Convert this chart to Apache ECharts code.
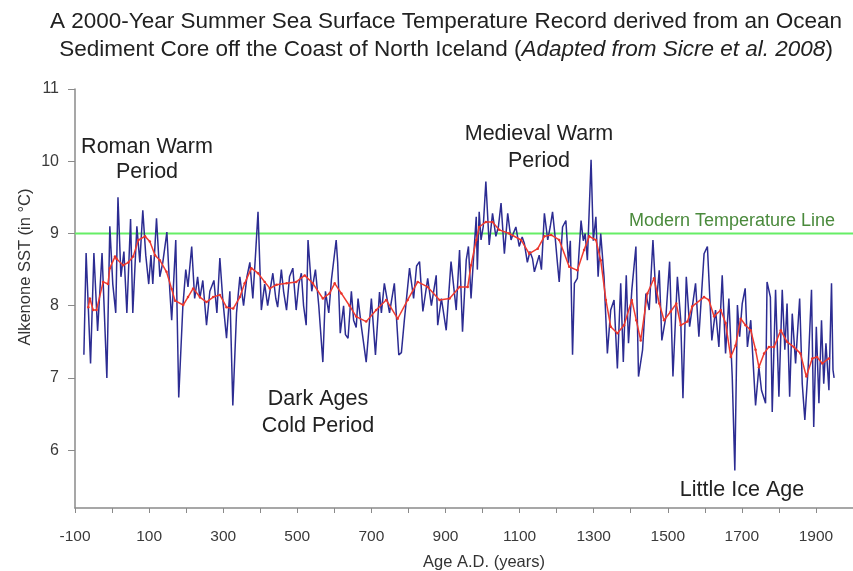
<!DOCTYPE html>
<html>
<head>
<meta charset="utf-8">
<title>2000-Year Summer SST Record, North Iceland</title>
<script src="https://cdn.jsdelivr.net/npm/echarts@6/dist/echarts.min.js"></script>
<style>
  html, body { margin: 0; padding: 0; background: #fff; }
  #chart { width: 853px; height: 571px; }
</style>
</head>
<body>
<div id="chart"></div>
<script>
// raw alkenone SST record, [year AD, degC] (blue)
var rawSst = [
  [-76,7.32],[-70,8.73],[-58,7.2],[-49,8.73],[-39,7.65],[-27,8.73],[-14,7.0],[-6,9.1],[2,8.3],[10,7.9],
  [16,9.5],[24,8.4],[32,8.75],[40,7.9],[50,9.2],[56,7.9],[67,9.1],[75,8.6],[83,9.32],[91,8.7],
  [99,8.3],[105,8.7],[110,8.3],[120,9.21],[129,8.4],[137,8.6],[148,9.02],[156,8.2],[161,7.8],[172,8.91],
  [180,6.73],[191,7.98],[199,8.5],[205,8.26],[215,8.82],[223,8.1],[231,8.4],[237,8.1],[245,8.35],[255,7.73],
  [264,8.2],[275,8.35],[283,7.9],[291,8.66],[299,8.08],[309,7.55],[318,8.2],[326,6.62],[336,7.9],[345,8.4],
  [355,8.0],[364,8.4],[372,8.6],[380,8.1],[388,8.77],[394,9.3],[403,7.94],[412,8.3],[420,8.0],[434,8.45],
  [442,8.1],[447,7.98],[457,8.5],[463,8.2],[471,7.94],[479,8.4],[488,8.52],[497,7.94],[504,8.3],[511,8.45],
  [517,8.0],[524,7.73],[529,8.91],[539,8.2],[549,8.5],[558,8.0],[569,7.22],[576,8.2],[585,7.9],[592,8.35],
  [605,8.91],[609,8.6],[616,7.62],[625,8.0],[630,7.6],[637,7.55],[646,8.2],[652,7.8],[659,7.7],[664,8.1],
  [673,7.71],[686,7.22],[700,8.1],[711,7.32],[722,8.19],[727,7.9],[735,8.31],[749,7.9],[762,8.31],[774,7.32],
  [781,7.35],[789,7.8],[803,8.52],[814,8.1],[822,8.55],[830,8.61],[839,7.92],[852,8.38],[862,8.0],[875,8.42],
  [879,7.73],[889,8.1],[902,7.66],[915,8.61],[929,7.94],[938,8.77],[946,7.64],[956,8.63],[962,8.82],[969,8.1],
  [975,8.6],[983,9.23],[986,8.5],[991,9.3],[996,8.91],[1002,9.1],[1009,9.72],[1018,8.84],[1027,9.28],[1036,8.96],
  [1043,9.1],[1050,9.42],[1059,8.72],[1068,9.28],[1077,8.91],[1083,9.0],[1090,9.09],[1099,8.82],[1107,8.95],[1113,8.86],
  [1121,8.6],[1128,8.75],[1135,8.65],[1140,8.47],[1145,8.45],[1153,8.7],[1159,8.5],[1167,9.28],[1176,8.91],[1183,9.1],
  [1189,9.3],[1196,8.95],[1202,8.6],[1207,8.33],[1216,9.09],[1225,9.18],[1232,8.59],[1237,8.9],[1243,7.32],[1248,8.31],
  [1256,8.38],[1266,9.18],[1272,8.9],[1277,9.0],[1283,8.63],[1293,10.02],[1299,8.9],[1306,9.23],[1312,8.4],[1319,9.0],
  [1328,8.4],[1337,7.34],[1346,7.94],[1355,8.08],[1364,7.13],[1373,8.31],[1380,7.22],[1388,8.42],[1394,7.48],[1403,8.22],
  [1414,8.82],[1421,7.02],[1432,7.39],[1441,8.17],[1450,7.94],[1460,8.91],[1469,8.03],[1477,8.49],[1484,7.52],[1495,7.85],
  [1505,8.61],[1514,7.02],[1526,8.4],[1535,7.8],[1541,6.72],[1550,8.4],[1559,7.71],[1575,8.31],[1584,7.57],[1598,8.72],
  [1607,8.82],[1619,7.52],[1629,7.94],[1638,7.43],[1647,8.42],[1656,7.34],[1665,8.1],[1674,7.02],[1681,5.72],[1688,8.01],
  [1694,7.57],[1701,8.03],[1709,8.24],[1715,7.43],[1724,7.8],[1737,6.62],[1746,7.15],[1753,6.83],[1764,6.65],[1768,8.33],
  [1777,8.12],[1782,6.53],[1791,8.22],[1800,6.74],[1809,8.22],[1816,7.39],[1822,8.03],[1829,6.74],[1836,7.89],[1845,7.2],
  [1856,8.1],[1863,6.92],[1870,6.42],[1879,7.15],[1888,8.22],[1894,6.32],[1901,7.71],[1908,6.65],[1915,7.8],[1921,6.92],
  [1927,7.48],[1935,6.83],[1942,8.31],[1946,7.11],[1949,7.0]
];

// smoothed curve (red)
var smoothSst = [
  [-64,7.98],[-60,8.1],[-51,7.94],[-42,7.94],[-24,8.33],[-11,8.3],[-6,8.52],[8,8.68],[12,8.65],[30,8.56],
  [44,8.6],[57,8.68],[71,8.91],[89,8.96],[102,8.89],[116,8.7],[129,8.63],[147,8.47],[161,8.23],[170,8.07],
  [192,8.01],[205,8.12],[219,8.24],[237,8.12],[255,8.05],[273,8.12],[291,8.15],[309,7.98],[327,7.96],[345,8.12],
  [358,8.31],[376,8.52],[394,8.45],[412,8.33],[426,8.24],[444,8.29],[471,8.31],[497,8.33],[520,8.42],[542,8.31],
  [569,8.1],[587,8.17],[601,8.31],[619,8.17],[641,8.0],[659,7.85],[686,7.78],[713,7.94],[740,8.08],[771,7.82],
  [798,8.08],[825,8.33],[852,8.26],[884,8.08],[911,8.1],[938,8.26],[960,8.26],[969,8.56],[983,8.91],[991,9.09],
  [1009,9.16],[1027,9.16],[1045,9.05],[1072,9.0],[1104,8.91],[1126,8.72],[1149,8.79],[1167,8.96],[1185,8.98],[1207,8.91],
  [1234,8.54],[1256,8.49],[1274,8.77],[1288,8.96],[1306,8.91],[1319,8.63],[1333,8.08],[1346,7.71],[1364,7.62],[1382,7.73],
  [1403,8.08],[1415,7.8],[1427,7.52],[1445,8.17],[1463,8.38],[1477,8.03],[1490,7.8],[1508,7.92],[1523,8.03],[1535,7.73],
  [1553,7.78],[1566,7.99],[1598,8.12],[1611,8.08],[1625,7.85],[1643,7.94],[1656,7.76],[1670,7.29],[1683,7.45],[1697,7.82],
  [1710,7.73],[1724,7.66],[1737,7.39],[1746,7.15],[1760,7.34],[1773,7.43],[1787,7.43],[1805,7.66],[1822,7.5],[1840,7.43],
  [1858,7.34],[1874,7.02],[1890,7.27],[1903,7.29],[1917,7.2],[1935,7.27]
];

var xLabelYears = [-100, 100, 300, 500, 700, 900, 1100, 1300, 1500, 1700, 1900];
var yLabelTemps = [6, 7, 8, 9, 10, 11];
var modernTemp = 9;
var modernLine = [[-100, modernTemp], [2000, modernTemp]];

var FONT = '"Liberation Sans", Arial, Helvetica, sans-serif';

function txt(text, x, y, size, color, lh) {
  return {
    type: 'text',
    x: x,
    y: y,
    style: {
      text: text,
      font: size + 'px ' + FONT,
      fill: color,
      align: 'center',
      verticalAlign: 'middle',
      lineHeight: lh || size
    }
  };
}

var chart = echarts.init(document.getElementById('chart'));

var option = {
  animation: false,
  backgroundColor: '#fff',
  grid: { left: 75, right: 0, top: 89, bottom: 63 },
  xAxis: {
    type: 'value',
    min: -100,
    max: 2000,
    interval: 100,
    axisLine: { onZero: false, lineStyle: { color: '#8a8a8a', width: 1.5 } },
    axisTick: { length: 5, lineStyle: { color: '#8a8a8a' } },
    axisLabel: {
      customValues: xLabelYears,
      formatter: function (v) { return String(v); },
      margin: 21,
      color: '#3a3a3a',
      fontSize: 15.5,
      fontFamily: FONT
    },
    splitLine: { show: false }
  },
  yAxis: {
    type: 'value',
    min: 5.2,
    max: 11,
    axisLine: { show: true, onZero: false, lineStyle: { color: '#8a8a8a', width: 1.5 } },
    axisTick: { show: true, length: 7, customValues: yLabelTemps, lineStyle: { color: '#8a8a8a' } },
    axisLabel: {
      customValues: yLabelTemps,
      formatter: function (v) { return String(v); },
      margin: 16,
      color: '#3a3a3a',
      fontSize: 16,
      fontFamily: FONT
    },
    splitLine: { show: false }
  },
  series: [
    {
      name: 'modern',
      type: 'line',
      data: modernLine,
      symbol: 'none',
      silent: true,
      z: 1,
      lineStyle: { color: '#66ee66', width: 2 }
    },
    {
      name: 'raw',
      type: 'line',
      data: rawSst,
      symbol: 'none',
      z: 2,
      lineStyle: { color: '#2c2c92', width: 1.5 }
    },
    {
      name: 'smooth',
      type: 'line',
      data: smoothSst,
      symbol: 'circle',
      symbolSize: 2.5,
      z: 3,
      itemStyle: { color: '#e8332b' },
      lineStyle: { color: '#ef3b30', width: 1.5 }
    }
  ],
  graphic: [
    txt('A 2000-Year Summer Sea Surface Temperature Record derived from an Ocean', 446, 22, 22.5, '#222'),
    {
      type: 'text',
      x: 446,
      y: 50,
      style: {
        text: '{n|Sediment Core off the Coast of North Iceland (}{i|Adapted from Sicre et al. 2008}{n|)}',
        align: 'center',
        verticalAlign: 'middle',
        rich: {
          n: { font: '22.5px ' + FONT, fill: '#222' },
          i: { font: 'italic 22.5px ' + FONT, fill: '#222' }
        }
      }
    },
    txt('Roman Warm\nPeriod', 147, 160, 21.5, '#222', 25),
    txt('Medieval Warm\nPeriod', 539, 148, 21.5, '#222', 27),
    txt('Dark Ages\nCold Period', 318, 413, 21.5, '#222', 27),
    txt('Little Ice Age', 742, 490, 21.5, '#222'),
    txt('Modern Temperature Line', 732, 221, 18, '#4a8a3c'),
    txt('Age A.D. (years)', 484, 562, 16.5, '#333'),
    {
      type: 'text',
      x: 25,
      y: 267,
      rotation: Math.PI / 2,
      style: {
        text: 'Alkenone SST (in \u00B0C)',
        font: '16.5px ' + FONT,
        fill: '#333',
        align: 'center',
        verticalAlign: 'middle'
      }
    }
  ]
};

chart.setOption(option);
</script>
</body>
</html>
